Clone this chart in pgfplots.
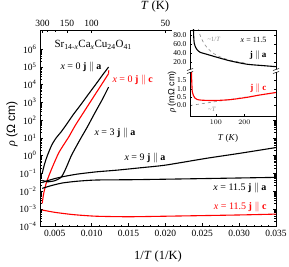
\documentclass[border=0pt]{standalone}
\usepackage{fontspec}
\setmainfont{Liberation Serif}
\newfontfamily\sansf{Liberation Sans}
\usepackage{pgfplots}
\pgfplotsset{compat=1.18}
\definecolor{dgray}{gray}{0.55}
\begin{document}
\begin{tikzpicture}[x=1pt,y=1pt]
\path[use as bounding box] (0pt,0pt) rectangle (289pt,267pt);
% ---------------- main axis ----------------
\begin{axis}[
  at={(40pt,40.5pt)}, anchor=south west, scale only axis, width=236pt, height=196pt,
  xmin=0.003, xmax=0.035, ymode=log, ymin=1e-4, ymax=1.12e7,
  xtick={0.005,0.010,0.015,0.020,0.025,0.030,0.035},
  xticklabels={0.005,0.010,0.015,0.020,0.025,0.030,0.035},
  scaled x ticks=false,
  minor x tick num=4, xtick pos=bottom,
  ytick={1e-4,1e-3,1e-2,1e-1,1,1e1,1e2,1e3,1e4,1e5,1e6},
  yticklabels={10\textsuperscript{−4},10\textsuperscript{−3},10\textsuperscript{−2},10\textsuperscript{−1},10\textsuperscript{0},10\textsuperscript{1},10\textsuperscript{2},10\textsuperscript{3},10\textsuperscript{4},10\textsuperscript{5},10\textsuperscript{6}},
  ticklabel style={font=\fontsize{9.5}{10}\selectfont},
  tick style={black, thin}, major tick length=3pt, minor tick length=1.6pt,
  axis line style={line width=0.8pt},
  clip=true,
]
% x = 0, j || a
\addplot[black, line width=1.1pt, smooth, tension=0.4] coordinates {
(0.0033,0.1)(0.0036,0.316)(0.0040,1)(0.0046,3.98)(0.0052,10)(0.0058,20)(0.0065,50)(0.0075,200)(0.0085,708)(0.0095,2630)(0.0105,9550)(0.0115,35500)(0.0123,97700)};
% x = 0, j || c
\addplot[red, line width=1.1pt, smooth, tension=0.4] coordinates {
(0.0033,0.0020)(0.0035,0.0074)(0.0039,0.0331)(0.0046,0.186)(0.0055,1.32)(0.0062,3.98)(0.0069,11.2)(0.0078,51.3)(0.009,309)(0.0105,2880)(0.0115,12600)(0.0123,41700)};
\addplot[red, line width=1.1pt] coordinates {(0.0123,41700)(0.01232,63100)};
% x = 3, j || a
\addplot[black, line width=1.1pt, smooth, tension=0.4] coordinates {
(0.0033,0.0398)(0.0040,0.0331)(0.0050,0.038)(0.0058,0.0562)(0.0062,0.1)(0.0067,0.288)(0.0072,0.891)(0.0077,2.24)(0.0085,8.91)(0.0094,39.8)(0.0105,282)(0.0115,1585)(0.0123,7240)};
% x = 9, j || a
\addplot[black, line width=1.1pt, smooth, tension=0.4] coordinates {
(0.0033,0.0302)(0.004,0.038)(0.005,0.0501)(0.006,0.0631)(0.008,0.0891)(0.0106,0.120)(0.0135,0.151)(0.0164,0.2)(0.020,0.288)(0.0255,0.692)(0.030,1.32)(0.035,2.82)};
% x = 11.5, j || a
\addplot[black, line width=1.1pt, smooth, tension=0.4] coordinates {
(0.0033,0.0141)(0.0045,0.02)(0.006,0.0282)(0.008,0.0355)(0.0106,0.0417)(0.016,0.0437)(0.025,0.0501)(0.035,0.0589)};
% x = 11.5, j || c
\addplot[red, line width=1.1pt, smooth, tension=0.4] coordinates {
(0.0033,8.5e-4)(0.005,6.3e-4)(0.0075,4.68e-4)(0.0106,3.8e-4)(0.015,3.55e-4)(0.02,3.8e-4)(0.03,4.47e-4)(0.035,5.0e-4)};
\end{axis}
% ---------------- top T axis ----------------
\begin{axis}[
  at={(40pt,40.5pt)}, anchor=south west, scale only axis, width=236pt, height=196pt,
  xmin=0.003, xmax=0.035, ymin=0, ymax=1,
  axis x line*=top, axis y line=none,
  scaled x ticks=false,
  xtick={0.0033333,0.0066667,0.01,0.02},
  xticklabels={300,150,100,50},
  minor xtick={0.004,0.005},
  ticklabel style={font=\fontsize{9.5}{10}\selectfont},
  tick style={black, thin}, major tick length=3pt, minor tick length=1.6pt,
  axis line style={line width=0.8pt},
]
\end{axis}
% ---------------- inset upper ----------------
\fill[white] (172pt,151pt) rectangle (276pt,237pt);
\begin{axis}[
  at={(190pt,196pt)}, anchor=south west, scale only axis, width=86pt, height=41pt,
  xmin=10, xmax=310, ymin=0, ymax=91,
  xtick=\empty,
  ytick={20,40,60,80}, yticklabels={20.0,40.0,60.0,80.0},
  ticklabel style={font=\fontsize{7.5}{8}\selectfont},
  tick style={black, thin}, major tick length=2pt,
  axis line style={draw=none},
  clip=true,
]
\addplot[dgray, dashed, line width=0.6pt, smooth] coordinates {
(38,95)(45,80)(55,65.5)(70,51.4)(90,40)(110,32.7)(140,25.7)(170,21.2)(200,18)};
\addplot[black, line width=1.1pt, smooth, tension=0.4] coordinates {
(22,95)(23,75)(25,61)(30,52)(35,47)(45,41.6)(69,37)(104,30.5)(151,22.3)(209,15)(268,11.8)(310,9.6)};
\end{axis}
% ---------------- inset lower ----------------
\begin{axis}[
  at={(190pt,151pt)}, anchor=south west, scale only axis, width=86pt, height=45pt,
  xmin=10, xmax=310, ymin=-0.63, ymax=2.07,
  xtick={100,200}, xtick pos=bottom,
  ytick={0,0.5,1,1.5}, yticklabels={0.0,0.5,1.0,1.5},
  ticklabel style={font=\fontsize{7.5}{8}\selectfont},
  tick style={black, thin}, major tick length=2pt,
  axis line style={draw=none},
  clip=true,
]
\addplot[dgray, dashed, line width=0.6pt] coordinates {(10,0.0)(310,0.78)};
\addplot[red, line width=1.1pt, smooth, tension=0.4] coordinates {
(15,2.2)(16,1.5)(17,1.1)(18,0.83)(22,0.6)(27,0.45)(35,0.36)(50,0.32)(80,0.30)(100,0.30)(150,0.35)(209,0.49)(250,0.62)(310,0.78)};
\end{axis}
% inset frame
\draw[line width=0.8pt] (190pt,196pt) -- (190pt,237pt) -- (276pt,237pt) -- (276pt,196pt);
\draw[line width=0.8pt] (190pt,196pt) -- (190pt,151pt) -- (276pt,151pt) -- (276pt,196pt);
\foreach \xx in {190,276}{
  \fill[white] (\xx pt-3pt,194.5pt) rectangle (\xx pt+3pt,197.5pt);
  \draw[line width=0.5pt] (\xx pt-3pt,193.5pt) -- (\xx pt+3pt,195.5pt);
  \draw[line width=0.5pt] (\xx pt-3pt,196.5pt) -- (\xx pt+3pt,198.5pt);
}
% inset labels
\node[anchor=east, font=\fontsize{8}{9}\selectfont] at (270pt,227pt) {\textit{x} = 11.5};
\node[anchor=east, font=\fontsize{9}{10}\selectfont] at (270pt,212pt) {\textbf{j} $\|$ \textbf{a}};
\node[anchor=east, font=\fontsize{9}{10}\selectfont, text=red] at (270pt,179pt) {\textbf{j} $\|$ \textbf{c}};
\node[font=\fontsize{6.5}{7}\selectfont, text=dgray] at (214pt,228pt) {\textasciitilde 1/\textit{T}};
\node[font=\fontsize{6.5}{7}\selectfont, text=dgray] at (212pt,158pt) {\textasciitilde \textit{T}};
\node[rotate=90, font=\fontsize{9}{10}\selectfont] at (172pt,175pt) {\textit{ρ} {\sansf(mΩ cm)}};
\node[font=\fontsize{9}{10}\selectfont] at (228pt,129pt) {\textit{T} (\textit{K})};
% main labels
\node[anchor=west, font=\fontsize{11}{12}\selectfont] at (51pt,222pt) {Sr\textsubscript{14-\textit{x}}Ca\textsubscript{\textit{x}}Cu\textsubscript{24}O\textsubscript{41}};
\node[anchor=west, font=\fontsize{10}{11}\selectfont] at (57pt,200pt) {\textit{x} = 0 \textbf{j} $\|$ \textbf{a}};
\node[anchor=west, font=\fontsize{10}{11}\selectfont, text=red] at (109pt,187pt) {\textit{x} = 0 \textbf{j} $\|$ \textbf{c}};
\node[anchor=west, font=\fontsize{10}{11}\selectfont] at (91pt,134pt) {\textit{x} = 3 \textbf{j} $\|$ \textbf{a}};
\node[anchor=west, font=\fontsize{10}{11}\selectfont] at (121pt,109pt) {\textit{x} = 9 \textbf{j} $\|$ \textbf{a}};
\node[anchor=east, font=\fontsize{10}{11}\selectfont] at (270pt,79pt) {\textit{x} = 11.5 \textbf{j} $\|$ \textbf{a}};
\node[anchor=east, font=\fontsize{10}{11}\selectfont, text=red] at (270pt,60pt) {\textit{x} = 11.5 \textbf{j} $\|$ \textbf{c}};
\node[font=\fontsize{12.5}{13}\selectfont] at (158pt,11pt) {1/\textit{T} (1/K)};
\node[font=\fontsize{12.5}{13}\selectfont] at (155pt,261pt) {\textit{T} (K)};
\node[rotate=90, font=\fontsize{12}{13}\selectfont] at (12pt,143pt) {\textit{ρ} {\sansf(Ω cm)}};
\end{tikzpicture}
\end{document}
